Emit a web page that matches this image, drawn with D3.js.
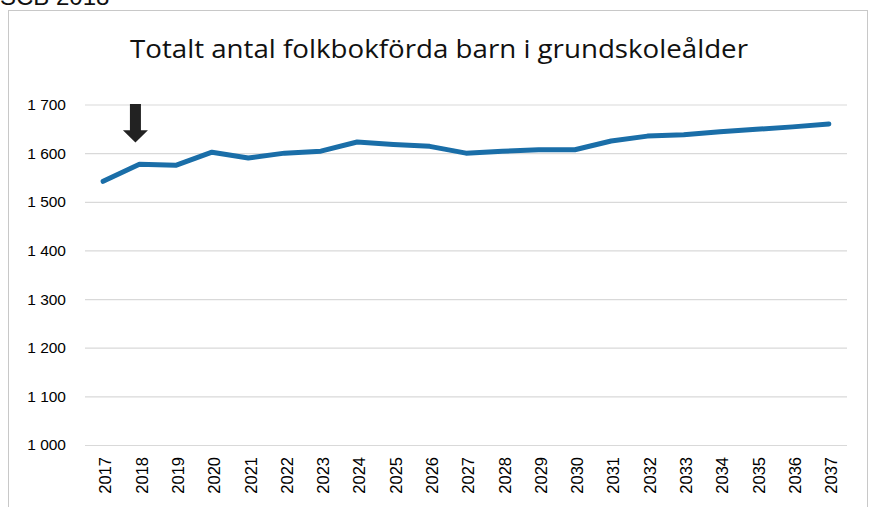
<!DOCTYPE html>
<html>
<head>
<meta charset="utf-8">
<script src="https://cdn.jsdelivr.net/npm/d3@7"></script>
<style>
  body { margin: 0; background: #fff; }
  svg { display: block; }
</style>
</head>
<body>
<svg id="chart" width="869" height="507"></svg>
<script>
const years = ["2017","2018","2019","2020","2021","2022","2023","2024","2025","2026","2027",
               "2028","2029","2030","2031","2032","2033","2034","2035","2036","2037"];
const children = [1542, 1577, 1575, 1602, 1590, 1600, 1604, 1623, 1618, 1614, 1600,
                  1604, 1607, 1607, 1625, 1635, 1638, 1644, 1649, 1654, 1660];
const yTicks = [1000, 1100, 1200, 1300, 1400, 1500, 1600, 1700];
const markedYear = "2018";
const title = "Totalt antal folkbokförda barn i grundskoleålder";
const source = "SCB 2018";

const svg = d3.select('#chart');

// plot area
const plotLeft = 85, plotRight = 847, plotTop = 104.5, plotBottom = 445;

const x = d3.scalePoint().domain(years).range([plotLeft, plotRight]).padding(0.5);
const y = d3.scaleLinear().domain([1000, 1700]).range([plotBottom, plotTop]);

// source text at the very top, cut off by the scan just like the original
svg.append('text')
    .attr('x', 0).attr('y', 5)
    .style('font-family', '"Liberation Sans", Arial, sans-serif')
    .style('font-size', '24px')
    .attr('fill', '#111')
    .text(source);

// chart frame
svg.append('rect')
    .attr('x', 8.5).attr('y', 10.5)
    .attr('width', 859).attr('height', 520)
    .attr('fill', 'none')
    .attr('stroke', '#c8c8c8')
    .attr('stroke-width', 1);

svg.append('text')
    .attr('x', 439).attr('y', 58)
    .attr('text-anchor', 'middle')
    .style('font-family', '"Open Sans", sans-serif')
    .style('font-size', '26px')
    .attr('fill', '#111')
    .attr('textLength', 618)
    .attr('lengthAdjust', 'spacingAndGlyphs')
    .text(title);

// gridlines + y labels
const yAxis = svg.append('g')
    .attr('transform', `translate(${plotLeft},0)`)
    .call(d3.axisLeft(y).tickValues(yTicks).tickSize(-(plotRight - plotLeft)).tickPadding(19)
        .tickFormat(d => d3.format(',')(d).replace(',', ' ')));
yAxis.select('.domain').remove();
yAxis.selectAll('.tick line').attr('stroke', '#d9d9d9').attr('stroke-width', 1.2);
yAxis.selectAll('.tick text')
    .style('font-family', '"Liberation Sans", Arial, sans-serif')
    .style('font-size', '15.5px')
    .attr('fill', '#000');

// x labels, rotated
const xAxis = svg.append('g')
    .attr('transform', `translate(0,${plotBottom})`)
    .call(d3.axisBottom(x).tickSize(0));
xAxis.select('.domain').remove();
xAxis.selectAll('.tick text')
    .style('font-family', '"Liberation Sans", Arial, sans-serif')
    .style('font-size', '16.5px')
    .attr('fill', '#000')
    .attr('text-anchor', 'end')
    .attr('transform', 'rotate(-90)')
    .attr('x', -12)
    .attr('y', 2)
    .attr('dy', '0.35em');

// the series
const line = d3.line()
    .x((d, i) => x(years[i]))
    .y(d => y(d));

svg.append('path')
    .datum(children)
    .attr('d', line)
    .attr('fill', 'none')
    .attr('stroke', '#1a6ea8')
    .attr('stroke-width', 5)
    .attr('stroke-linejoin', 'round')
    .attr('stroke-linecap', 'round');

// arrow pointing at 2018
const ax = x(markedYear) - 4;
const aTop = y(1700) - 0.5;
const aBase = y(1647);
const aTip = y(1622);
svg.append('path')
    .attr('d', `M${ax - 5.5},${aTop} L${ax + 5.5},${aTop} L${ax + 5.5},${aBase}
                L${ax + 12.5},${aBase} L${ax},${aTip} L${ax - 12.5},${aBase}
                L${ax - 5.5},${aBase} Z`)
    .attr('fill', '#222');
</script>
</body>
</html>
